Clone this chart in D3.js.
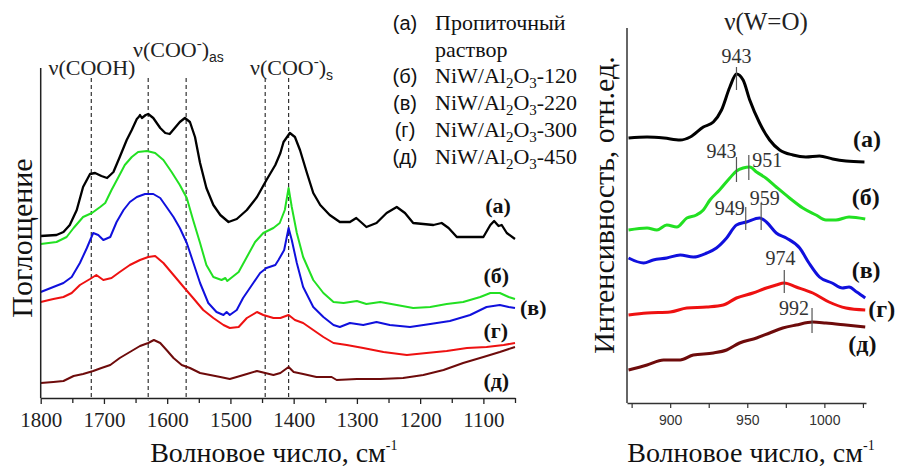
<!DOCTYPE html>
<html><head><meta charset="utf-8">
<script src="https://cdn.jsdelivr.net/npm/d3@7"></script>
<style>
html,body{margin:0;padding:0;background:#fff;}
svg{display:block;}
</style></head><body>
<svg id="chart" width="900" height="469"></svg>
<script>
// ---------- DATA: IR spectra (left panel), wavenumber cm-1 / absorbance a.u. ----------
const irA = [[1800,1.62],[1775,1.63],[1764,1.66],[1754,1.73],[1743,1.88],[1733,2.11],[1722,2.24],[1714,2.25],[1704,2.22],[1695,2.20],[1685,2.26],[1675,2.41],[1664,2.58],[1656,2.68],[1648,2.79],[1645,2.81],[1643,2.83],[1640,2.80],[1638,2.81],[1634,2.83],[1630,2.84],[1622,2.80],[1611,2.70],[1603,2.65],[1596,2.64],[1588,2.70],[1580,2.76],[1572,2.80],[1564,2.76],[1556,2.61],[1548,2.35],[1538,2.10],[1527,1.93],[1516,1.83],[1503,1.76],[1490,1.79],[1474,1.88],[1458,2.01],[1443,2.18],[1429,2.33],[1421,2.45],[1416,2.56],[1406,2.65],[1398,2.61],[1390,2.48],[1379,2.25],[1369,2.05],[1358,1.93],[1343,1.83],[1327,1.76],[1311,1.76],[1301,1.80],[1292,1.75],[1285,1.71],[1269,1.75],[1253,1.85],[1237,1.91],[1224,1.85],[1211,1.75],[1195,1.74],[1179,1.73],[1166,1.75],[1155,1.70],[1142,1.61],[1126,1.61],[1100,1.61],[1089,1.73],[1083,1.77],[1076,1.72],[1071,1.73],[1063,1.65],[1050,1.59]];
const irB = [[1800,1.54],[1775,1.56],[1759,1.61],[1748,1.70],[1733,1.81],[1719,1.85],[1706,1.91],[1698,1.95],[1688,2.08],[1677,2.21],[1667,2.33],[1656,2.41],[1646,2.46],[1632,2.47],[1619,2.45],[1606,2.38],[1593,2.26],[1580,2.13],[1569,2.00],[1559,1.78],[1548,1.55],[1538,1.33],[1527,1.21],[1514,1.18],[1508,1.20],[1505,1.17],[1501,1.19],[1487,1.26],[1474,1.41],[1461,1.56],[1448,1.65],[1432,1.70],[1422,1.75],[1414,1.88],[1408,2.10],[1403,1.91],[1395,1.65],[1385,1.41],[1369,1.18],[1353,1.05],[1337,0.96],[1321,0.95],[1300,0.97],[1285,0.94],[1263,0.96],[1237,0.93],[1211,0.90],[1184,0.91],[1158,0.94],[1132,0.96],[1105,1.01],[1089,1.05],[1074,1.05],[1060,1.01],[1050,0.99]];
const irC = [[1800,1.06],[1780,1.11],[1764,1.15],[1751,1.21],[1738,1.35],[1727,1.50],[1717,1.65],[1709,1.63],[1701,1.58],[1690,1.61],[1680,1.76],[1669,1.88],[1659,1.96],[1648,2.01],[1635,2.04],[1622,2.04],[1611,2.00],[1601,1.91],[1590,1.81],[1580,1.70],[1569,1.55],[1559,1.36],[1548,1.15],[1535,0.95],[1522,0.86],[1511,0.83],[1506,0.86],[1501,0.83],[1490,0.88],[1480,1.00],[1466,1.13],[1453,1.25],[1443,1.30],[1429,1.33],[1424,1.38],[1415,1.48],[1408,1.70],[1403,1.58],[1395,1.35],[1385,1.11],[1369,0.91],[1353,0.81],[1337,0.73],[1327,0.71],[1311,0.75],[1290,0.73],[1269,0.76],[1248,0.73],[1216,0.71],[1184,0.74],[1153,0.77],[1121,0.83],[1095,0.91],[1074,0.93],[1060,0.91],[1050,0.90]];
const irD = [[1800,0.96],[1780,0.99],[1764,1.01],[1751,1.05],[1738,1.13],[1722,1.19],[1712,1.23],[1701,1.18],[1688,1.20],[1675,1.26],[1659,1.33],[1643,1.38],[1630,1.41],[1619,1.42],[1606,1.35],[1590,1.23],[1574,1.11],[1559,1.00],[1543,0.88],[1527,0.80],[1511,0.73],[1501,0.70],[1487,0.71],[1474,0.80],[1458,0.86],[1448,0.83],[1432,0.80],[1421,0.80],[1408,0.83],[1398,0.78],[1385,0.75],[1369,0.68],[1353,0.61],[1337,0.55],[1316,0.53],[1290,0.50],[1258,0.46],[1221,0.43],[1190,0.45],[1158,0.47],[1126,0.50],[1095,0.51],[1068,0.53],[1050,0.55]];
const irE = [[1800,0.15],[1780,0.16],[1764,0.17],[1748,0.22],[1733,0.24],[1717,0.27],[1704,0.30],[1690,0.33],[1675,0.40],[1659,0.46],[1643,0.52],[1630,0.55],[1621,0.58],[1611,0.55],[1601,0.48],[1590,0.40],[1577,0.33],[1564,0.30],[1548,0.25],[1532,0.23],[1516,0.21],[1501,0.19],[1490,0.21],[1474,0.24],[1458,0.27],[1445,0.25],[1432,0.23],[1421,0.25],[1408,0.31],[1400,0.26],[1385,0.24],[1364,0.21],[1340,0.21],[1332,0.18],[1300,0.19],[1263,0.19],[1227,0.20],[1195,0.23],[1163,0.28],[1132,0.35],[1100,0.41],[1074,0.46],[1050,0.51]];

// ---------- DATA: Raman spectra (right panel), wavenumber cm-1 / intensity a.u. ----------
const ramA = [[873,2.65],[885,2.66],[896,2.65],[906.5,2.63],[913,2.66],[921.5,2.76],[928,2.81],[933.3,2.93],[938.7,3.16],[943,3.29],[947.3,3.23],[951.6,3.03],[958,2.80],[964.5,2.63],[971,2.53],[979.6,2.48],[988,2.46],[996.8,2.47],[1005.4,2.44],[1014,2.42],[1026,2.41]];
const ramB = [[873,1.73],[885,1.75],[891.4,1.73],[897.8,1.78],[904.3,1.76],[910.8,1.85],[917,1.88],[921.5,1.93],[925.8,2.03],[932,2.13],[938.7,2.25],[943,2.32],[947.3,2.35],[951.6,2.36],[956,2.31],[962,2.25],[968.8,2.16],[977.4,2.05],[986,1.95],[994.6,1.88],[1001,1.83],[1007.5,1.83],[1016,1.86],[1026.5,1.84]];
const ramC = [[873,1.45],[882.8,1.40],[889,1.43],[897.8,1.45],[906.5,1.48],[915,1.46],[923.7,1.50],[930,1.55],[936.6,1.65],[943,1.78],[949.5,1.81],[958,1.85],[962.4,1.81],[968.8,1.70],[975.3,1.65],[984,1.55],[990,1.40],[996.8,1.26],[1005,1.20],[1011.7,1.15],[1016,1.16],[1021,1.11],[1026.5,1.05]];
const ramD = [[873,0.88],[885,0.90],[900,0.91],[910.8,0.95],[923.7,0.96],[934.4,0.98],[943,1.05],[953.7,1.10],[962.4,1.15],[968.8,1.18],[974,1.20],[981.7,1.16],[992.5,1.10],[1003,1.01],[1014,0.95],[1026.5,0.93]];
const ramE = [[873,0.33],[885,0.38],[895.7,0.43],[906.5,0.43],[915,0.48],[928,0.50],[936.6,0.53],[945,0.60],[956,0.65],[964.5,0.70],[973,0.75],[981.7,0.78],[992.5,0.81],[1001,0.80],[1014,0.78],[1026.5,0.76]];

// series labels & legend
const seriesTags = ["(а)","(б)","(в)","(г)","(д)"];
const legendNames = [["Пропиточный","раствор"],["NiW/Al2O3-120"],["NiW/Al2O3-220"],["NiW/Al2O3-300"],["NiW/Al2O3-450"]];
// label anchor points (wavenumber, value)
const irTagWn = [1097,1100,1042,1100,1100];
const irTagVal = [1.85,1.15,0.83,0.60,0.10];
const ramTagWn = [1018.6,1017.7,1017.7,1028.5,1015.5];
const ramTagVal = [2.56,1.98,1.25,0.86,0.51];
// band positions (left panel, dashed)
const irBands = [1720,1630,1570,1445,1408];
// Raman peak markers: wavenumber, marker low/high, label wn, label value
const ramPeakWn = [943,943,951,949,959,974,992];
const ramPeakLo = [3.13,2.21,2.23,1.73,1.73,1.10,0.70];
const ramPeakHi = [3.36,2.46,2.48,1.96,2.00,1.33,0.95];
const ramPeakLabelWn = [943,933.3,962.9,938.7,961.3,971.6,980.3];
const ramPeakLabelVal = [3.40,2.45,2.36,1.88,1.98,1.38,0.88];
// axis ticks
const irMajorTicks = [1800,1700,1600,1500,1400,1300,1200,1100];
const irMinorTicks = [1750,1650,1550,1450,1350,1250,1150,1050];
const ramMajorTicks = [900,950,1000];
const ramMinorTicks = [875,925,975,1025];

// ---------- STYLE ----------
const colors = ["#000000","#22e022","#1010dd","#ee1111","#6e0b0b"];
const SERIF = '"Liberation Serif","Times New Roman",serif';
const SANS = '"Liberation Sans",Arial,sans-serif';

const svg = d3.select("#chart");

function rich(textSel, parts, baseSize){
  let shift = 0;
  parts.forEach(p => {
    const s = p.shift || 0;
    const t = textSel.append("tspan").attr("dy", s - shift).attr("font-size", p.size || baseSize).text(p.t);
    if (p.family) t.style("font-family", p.family);
    shift = s;
  });
}
function formula(name){
  const m = name.match(/^(.*Al)2O3(.*)$/);
  if (!m) return [{t:name}];
  return [{t:m[1]},{t:"2",size:15,shift:5},{t:"O"},{t:"3",size:15,shift:5},{t:m[2]}];
}

// ================= LEFT PANEL =================
const xL = d3.scaleLinear().domain([1800,1050]).range([40.7,515]);
const yL = d3.scaleLinear().domain([0,3.3]).range([398,68]);
const gL = svg.append("g");

gL.selectAll("line.band").data(irBands).join("line")
  .attr("x1", d=>xL(d)).attr("x2", d=>xL(d))
  .attr("y1", yL(3.2)).attr("y2", yL(0))
  .attr("stroke","#333").attr("stroke-width",1.2).attr("stroke-dasharray","4,3");

const lineL = d3.line().x(d=>xL(d[0])).y(d=>yL(d[1])).curve(d3.curveLinear);
[irA,irB,irC,irD,irE].forEach((s,i)=>{
  gL.append("path").attr("d", lineL(s)).attr("fill","none")
    .attr("stroke", colors[i]).attr("stroke-width", i===0?2.3:2).attr("stroke-linejoin","round");
});

const axL = gL.append("g").attr("transform",`translate(0,${yL(0)})`)
  .call(d3.axisBottom(xL).tickValues(irMajorTicks).tickSize(6).tickSizeOuter(0).tickFormat(d3.format("d")));
axL.select(".domain").attr("stroke","#222").attr("stroke-width",1.5);
axL.selectAll(".tick line").attr("stroke","#222").attr("stroke-width",1.3);
axL.selectAll(".tick text").style("font-family",SERIF).attr("font-size",21).attr("fill","#222").attr("dy",null).attr("y",29);
const axLm = gL.append("g").attr("transform",`translate(0,${yL(0)})`)
  .call(d3.axisBottom(xL).tickValues(irMinorTicks).tickSize(5).tickSizeOuter(0).tickFormat(""));
axLm.select(".domain").remove();
axLm.selectAll(".tick line").attr("stroke","#222").attr("stroke-width",1.3);
gL.append("line").attr("x1",xL(1800)).attr("x2",xL(1800)).attr("y1",yL(0)).attr("y2",yL(3.3))
  .attr("stroke","#222").attr("stroke-width",1.5);

const t1 = gL.append("text").attr("x",xL(1719)).attr("y",yL(3.23)).attr("text-anchor","middle")
  .style("font-family",SERIF).attr("fill","#222");
rich(t1,[{t:"ν(COOH)"}],22);
const t2 = gL.append("text").attr("x",xL(1654)).attr("y",yL(3.41))
  .style("font-family",SERIF).attr("fill","#222");
rich(t2,[{t:"ν(COO"},{t:"-",size:15,shift:-9},{t:")"},{t:"as",size:14,shift:5,family:SANS}],22);
const t3 = gL.append("text").attr("x",xL(1469)).attr("y",yL(3.23))
  .style("font-family",SERIF).attr("fill","#222");
rich(t3,[{t:"ν(COO"},{t:"-",size:15,shift:-9},{t:")"},{t:"s",size:14,shift:5,family:SANS}],22);

seriesTags.forEach((t,i)=>{
  gL.append("text").attr("x",xL(irTagWn[i])).attr("y",yL(irTagVal[i]))
    .style("font-family",SERIF).attr("font-weight","bold").attr("font-size",22).attr("fill","#111").text(t);
});

gL.append("text").attr("transform",`translate(32,${(yL(0)+yL(3.3))/2+5}) rotate(-90)`)
  .attr("text-anchor","middle").style("font-family",SERIF).attr("font-size",30).attr("fill","#111").text("Поглощение");
const xtL = gL.append("text").attr("x",(xL(1800)+xL(1050))/2-4).attr("y",462).attr("text-anchor","middle")
  .style("font-family",SERIF).attr("fill","#111");
rich(xtL,[{t:"Волновое число, см"},{t:"-1",size:14,shift:-12}],28);

// legend
const legBase = [30,83,110,137,164];
seriesTags.forEach((t,i)=>{
  svg.append("text").attr("x",405).attr("y",legBase[i]).attr("text-anchor","middle")
    .style("font-family",SANS).attr("font-size",20).attr("fill","#111").text(t);
  legendNames[i].forEach((ln,j)=>{
    const tx = svg.append("text").attr("x",435).attr("y",legBase[i]+j*27)
      .style("font-family",SERIF).attr("fill","#111");
    rich(tx, formula(ln), 22);
  });
});

// ================= RIGHT PANEL =================
const xR = d3.scaleLinear().domain([872,1027]).range([627,866]);
const yR = d3.scaleLinear().domain([0,3.75]).range([403,28]);
const gR = svg.append("g");

const lineR = d3.line().x(d=>xR(d[0])).y(d=>yR(d[1])).curve(d3.curveMonotoneX);
[ramA,ramB,ramC,ramD,ramE].forEach((s,i)=>{
  gR.append("path").attr("d", lineR(s)).attr("fill","none")
    .attr("stroke", colors[i]).attr("stroke-width",3).attr("stroke-linejoin","round");
});

ramPeakWn.forEach((w,i)=>{
  gR.append("line").attr("x1",xR(w)).attr("x2",xR(w)).attr("y1",yR(ramPeakLo[i])).attr("y2",yR(ramPeakHi[i]))
    .attr("stroke","#555").attr("stroke-width",1.2);
  gR.append("text").attr("x",xR(ramPeakLabelWn[i])).attr("y",yR(ramPeakLabelVal[i]))
    .attr("text-anchor","middle").style("font-family",SERIF).attr("font-size",20).attr("fill","#333")
    .text(String(w));
});

const axR = gR.append("g").attr("transform",`translate(0,${yR(0)})`)
  .call(d3.axisBottom(xR).tickValues(ramMajorTicks).tickSize(5).tickSizeOuter(0).tickFormat(d3.format("d")));
axR.select(".domain").attr("stroke","#333").attr("stroke-width",1.5);
axR.selectAll(".tick line").attr("stroke","#333").attr("stroke-width",1.2);
axR.selectAll(".tick text").style("font-family",SANS).attr("font-size",14).attr("fill","#333").attr("dy",null).attr("y",22);
const axRm = gR.append("g").attr("transform",`translate(0,${yR(0)})`)
  .call(d3.axisBottom(xR).tickValues(ramMinorTicks).tickSize(5).tickSizeOuter(0).tickFormat(""));
axRm.select(".domain").remove();
axRm.selectAll(".tick line").attr("stroke","#333").attr("stroke-width",1.2);
gR.append("line").attr("x1",xR(872)).attr("x2",xR(872)).attr("y1",yR(0)).attr("y2",yR(3.75))
  .attr("stroke","#333").attr("stroke-width",1.5);

gR.append("text").attr("x",766).attr("y",30).attr("text-anchor","middle")
  .style("font-family",SERIF).attr("font-size",25).attr("fill","#222").text("ν(W=O)");

seriesTags.forEach((t,i)=>{
  gR.append("text").attr("x",xR(ramTagWn[i])).attr("y",yR(ramTagVal[i]))
    .style("font-family",SERIF).attr("font-weight","bold").attr("font-size",24).attr("fill","#111").text(t);
});

gR.append("text").attr("transform",`translate(614,205) rotate(-90)`)
  .attr("text-anchor","middle").style("font-family",SERIF).attr("font-size",30).attr("fill","#111").text("Интенсивность, отн.ед.");
const xtR = gR.append("text").attr("x",751).attr("y",462).attr("text-anchor","middle")
  .style("font-family",SERIF).attr("fill","#111");
rich(xtR,[{t:"Волновое число, см"},{t:"-1",size:14,shift:-12}],28);
</script>
</body></html>
